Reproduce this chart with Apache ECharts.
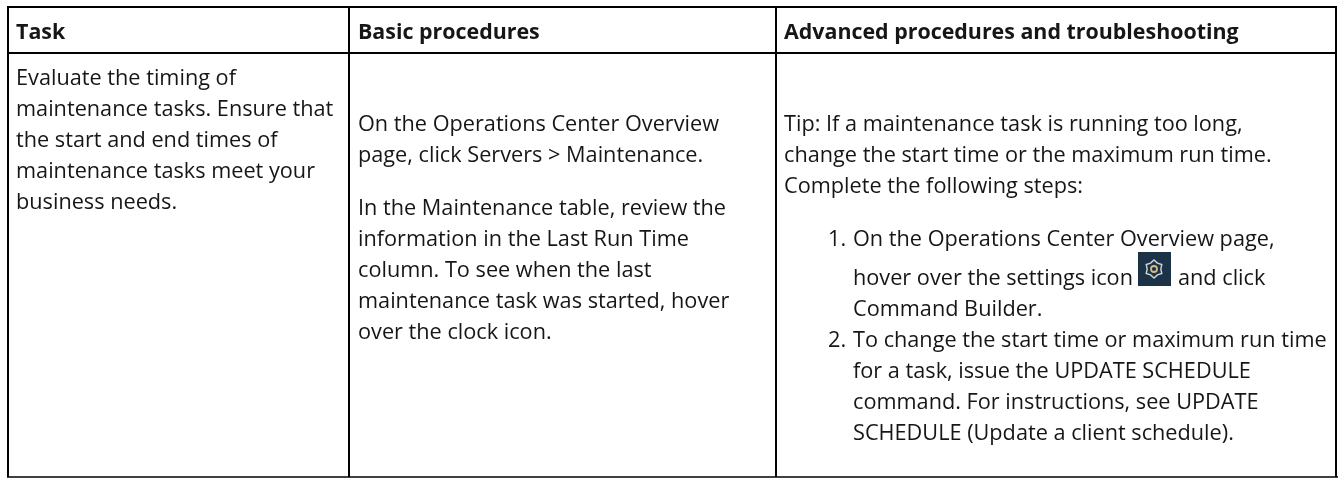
<!DOCTYPE html>
<html><head><meta charset="utf-8">
<style>html,body{margin:0;padding:0;background:#fff}#c{width:1343px;height:478px}</style>
<script src="https://cdn.jsdelivr.net/npm/echarts@6/dist/echarts.min.js"></script></head>
<body><div id="c"></div>
<script>
const headers = ["Task", "Basic procedures", "Advanced procedures and troubleshooting"];
const taskLines = ["Evaluate the timing of", "maintenance tasks. Ensure that", "the start and end times of", "maintenance tasks meet your", "business needs."];
const basicLines1 = ["On the Operations Center Overview", "page, click Servers > Maintenance."];
const basicLines2 = ["In the Maintenance table, review the", "information in the Last Run Time", "column. To see when the last", "maintenance task was started, hover", "over the clock icon."];
const advLines1 = ["Tip: If a maintenance task is running too long,", "change the start time or the maximum run time.", "Complete the following steps:"];
const stepMarks = ["1.", "2."];
const step1 = ["On the Operations Center Overview page,", "hover over the settings icon", "Command Builder."];
const step1b = "and click";
const step2 = ["To change the start time or maximum run time", "for a task, issue the UPDATE SCHEDULE", "command. For instructions, see UPDATE", "SCHEDULE (Update a client schedule)."];
const FONT = "'Open Sans'", SIZE = 21.7, BOLD_SIZE = 21.4, COLOR = "#161616", LH = 31, DY = 2;
const els = [];
function line(x1,y1,x2,y2,w){els.push({type:"line",silent:true,shape:{x1,y1,x2,y2},style:{stroke:"#000",lineWidth:w}});}
function text(s,x,y,bold){els.push({type:"text",silent:true,x,y:y+DY,style:{text:s,x:0,y:0,fill:COLOR,font:(bold?"bold "+BOLD_SIZE:SIZE)+"px "+FONT,textVerticalAlign:"middle"}});}
function block(lines,x,y0){lines.forEach((s,i)=>text(s,x,y0+i*LH));}
[8,349,776,1336].forEach(x=>line(x,7,x,477,2));
line(7,7,1337,7,2); line(7,53,1337,53,2); line(7,477,1338,477,1.5);
text(headers[0],16,31,true);text(headers[1],358,31,true);text(headers[2],784,31,true);
block(taskLines,16,77);
block(basicLines1,358,123);
block(basicLines2,358,207);
block(advLines1,784,123);
text(stepMarks[0],828,238);block(step1.slice(0,1),853,238);
text(step1[1],853,277);text(step1[2],853,308);text(step1b,1178,277);
text(stepMarks[1],828,339);block(step2,853,339);
// settings icon
els.push({type:"rect",silent:true,shape:{x:1138,y:252,width:33,height:34},style:{fill:"#1c3347"}});
const pts=[];for(let i=0;i<12;i++){const a=i*Math.PI/6+Math.PI/2,r=i%2?6.8:9;pts.push([1154+r*Math.cos(a),269+r*Math.sin(a)]);}
els.push({type:"polygon",silent:true,shape:{points:pts},style:{fill:"none",stroke:"#c9d6dc",lineWidth:1.4}});
els.push({type:"circle",silent:true,shape:{cx:1154,cy:269,r:3},style:{fill:"none",stroke:"#d9b97c",lineWidth:1.8}});
const chart = echarts.init(document.getElementById("c"),null,{renderer:"canvas"});
chart.setOption({animation:false,graphic:{elements:els}});
</script></body></html>
